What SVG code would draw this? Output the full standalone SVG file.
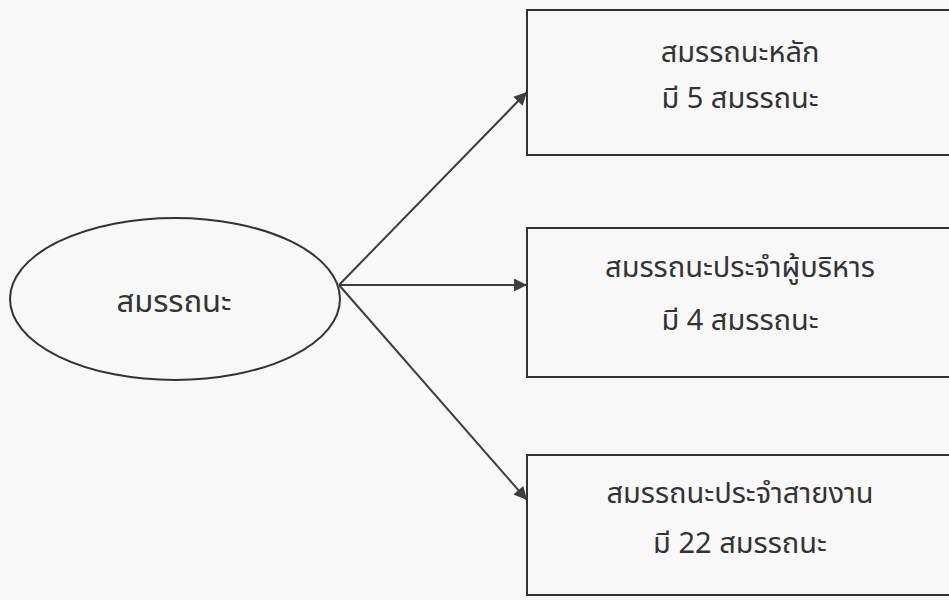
<svg xmlns="http://www.w3.org/2000/svg" width="949" height="600" viewBox="0 0 949 600">
<style>
.bg{fill:#f8f8f9}
.shape{fill:none;stroke:#333;stroke-width:2}
.conn{fill:none;stroke:#3d3d3d;stroke-width:2}
.t{font-family:Tahoma,"Noto Sans Thai","Noto Sans","DejaVu Sans","Liberation Sans",sans-serif;font-size:29px;fill:#333;text-anchor:middle}
.big{font-size:31px}
</style>
<defs>
<marker id="ah" viewBox="0 0 10 10" refX="10" refY="5" markerWidth="14" markerHeight="13" markerUnits="userSpaceOnUse" orient="auto">
<path d="M0,0 L10,5 L0,10 Z" fill="#3d3d3d"/>
</marker>
</defs>
<rect class="bg" x="0" y="0" width="949" height="600"/>
<g id="connectors">
<line class="conn" x1="339" y1="285" x2="527" y2="92" marker-end="url(#ah)"/>
<line class="conn" x1="339" y1="285" x2="527" y2="285" marker-end="url(#ah)"/>
<line class="conn" x1="339" y1="285" x2="527" y2="500" marker-end="url(#ah)"/>
</g>
<g id="root">
<ellipse class="shape" cx="175" cy="299" rx="165" ry="81"/>
<text class="t big" x="174" y="312">สมรรถนะ</text>
</g>
<g id="core">
<rect class="shape" x="527" y="10" width="440" height="145"/>
<text class="t" x="740" y="62">สมรรถนะหลัก</text>
<text class="t" x="740" y="108">มี 5 สมรรถนะ</text>
</g>
<g id="management">
<rect class="shape" x="527" y="228" width="440" height="149"/>
<text class="t" x="740" y="277">สมรรถนะประจำผู้บริหาร</text>
<text class="t" x="740" y="330">มี 4 สมรรถนะ</text>
</g>
<g id="functional">
<rect class="shape" x="527" y="455" width="440" height="140"/>
<text class="t" x="740" y="503">สมรรถนะประจำสายงาน</text>
<text class="t" x="740" y="553">มี 22 สมรรถนะ</text>
</g>
</svg>
